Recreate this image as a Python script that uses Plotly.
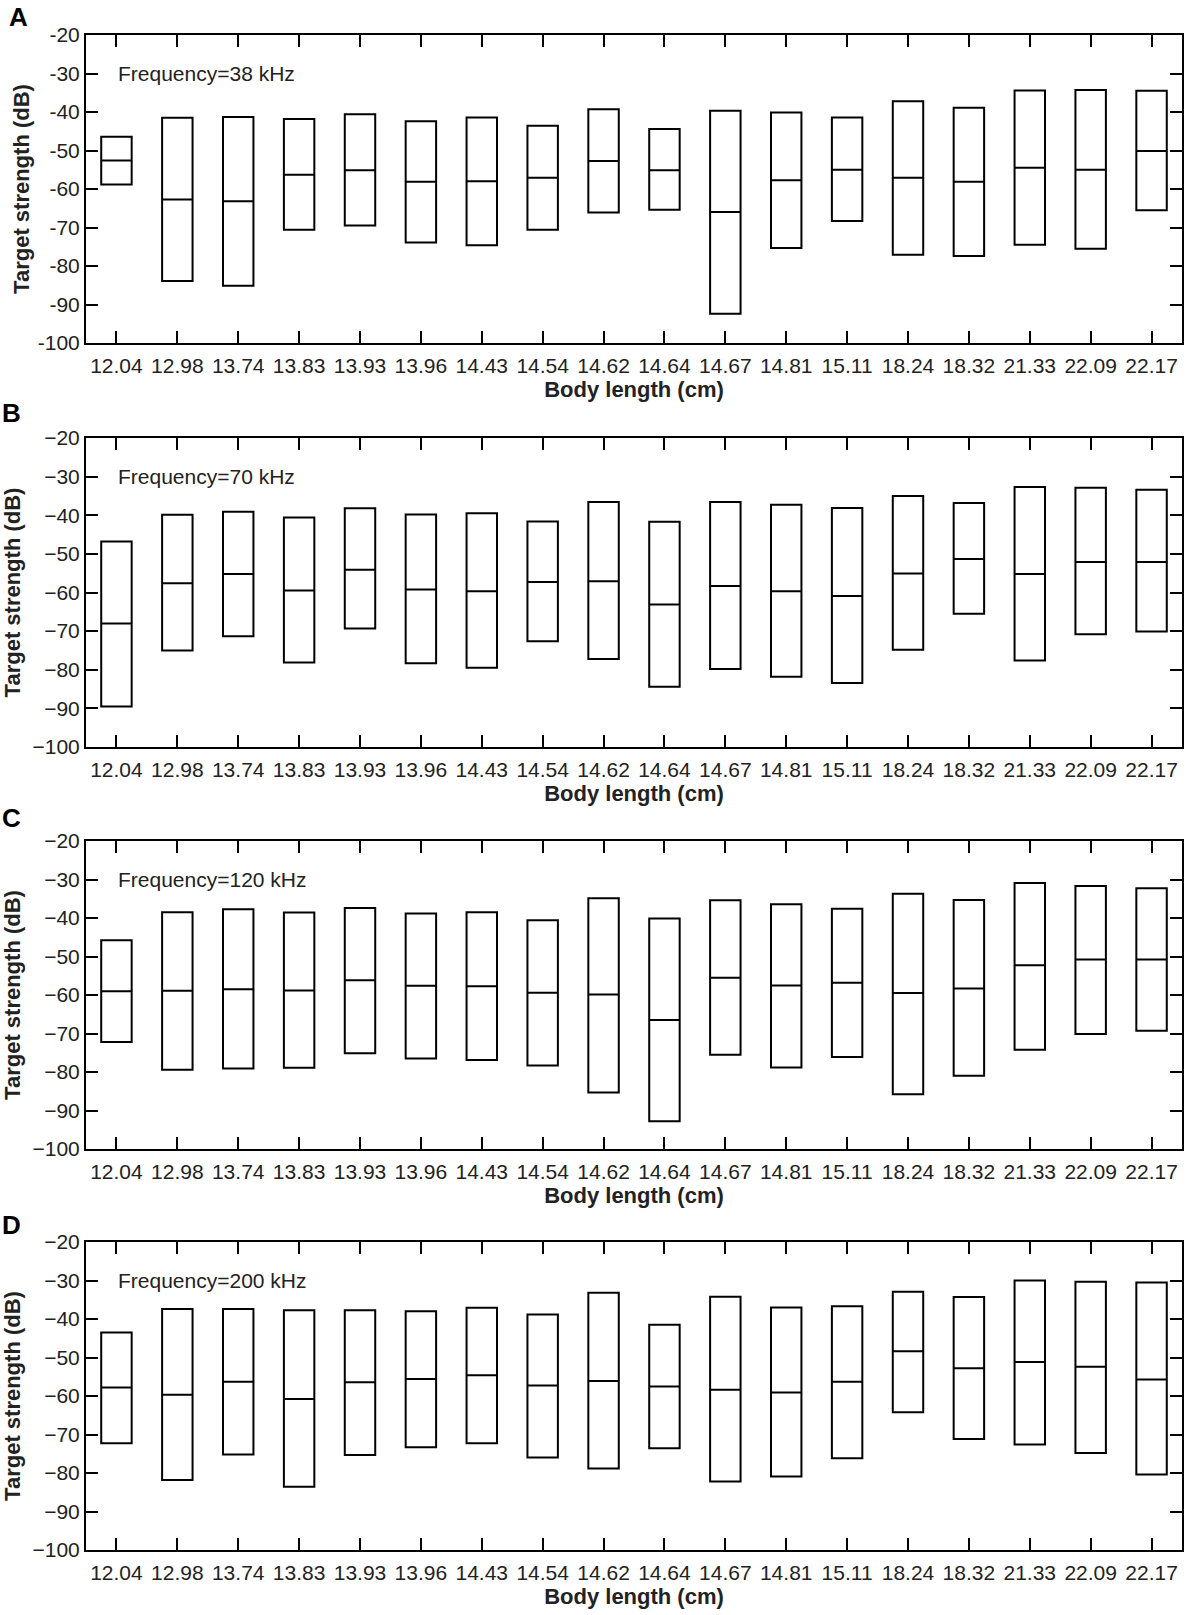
import plotly.graph_objects as go

# body length categories (cm)
body_length = ["12.04", "12.98", "13.74", "13.83", "13.93", "13.96", "14.43", "14.54", "14.62",
               "14.64", "14.67", "14.81", "15.11", "18.24", "18.32", "21.33", "22.09", "22.17"]

# target strength (dB): max / median / min for each frequency
ts_max_38 = [-46.4, -41.5, -41.3, -41.8, -40.6, -42.4, -41.4, -43.6, -39.3,
             -44.4, -39.7, -40.1, -41.4, -37.2, -38.9, -34.4, -34.3, -34.5]
ts_med_38 = [-52.6, -62.7, -63.2, -56.3, -55.1, -58.1, -58.0, -57.1, -52.7,
             -55.1, -66.0, -57.7, -55.0, -57.1, -58.1, -54.5, -55.0, -50.1]
ts_min_38 = [-58.8, -83.9, -85.1, -70.6, -69.5, -73.9, -74.6, -70.6, -66.1,
             -65.4, -92.4, -75.3, -68.3, -77.1, -77.4, -74.5, -75.5, -65.5]

ts_max_70 = [-46.8, -39.9, -39.1, -40.6, -38.2, -39.8, -39.5, -41.6, -36.6,
             -41.7, -36.6, -37.3, -38.1, -35.0, -36.8, -32.7, -32.9, -33.4]
ts_med_70 = [-68.0, -57.6, -55.2, -59.5, -54.1, -59.2, -59.7, -57.3, -57.1,
             -63.1, -58.3, -59.7, -60.9, -55.1, -51.3, -55.2, -52.1, -52.1]
ts_min_70 = [-89.5, -75.0, -71.3, -78.1, -69.3, -78.3, -79.5, -72.6, -77.2,
             -84.4, -79.8, -81.8, -83.4, -74.8, -65.5, -77.6, -70.8, -70.1]

ts_max_120 = [-45.8, -38.5, -37.7, -38.6, -37.4, -38.8, -38.5, -40.6, -34.9,
              -40.1, -35.4, -36.4, -37.6, -33.7, -35.3, -30.9, -31.7, -32.3]
ts_med_120 = [-59.0, -58.9, -58.5, -58.8, -56.2, -57.6, -57.7, -59.4, -59.9,
              -66.5, -55.5, -57.5, -56.8, -59.5, -58.3, -52.3, -50.8, -50.8]
ts_min_120 = [-72.2, -79.4, -79.1, -78.9, -75.1, -76.5, -76.9, -78.3, -85.3,
              -92.8, -75.5, -78.8, -76.1, -85.8, -81.0, -74.2, -70.1, -69.3]

ts_max_200 = [-43.5, -37.4, -37.4, -37.7, -37.7, -38.0, -37.1, -38.8, -33.2,
              -41.5, -34.2, -37.0, -36.7, -32.9, -34.3, -30.0, -30.3, -30.5]
ts_med_200 = [-57.8, -59.7, -56.3, -60.8, -56.4, -55.6, -54.6, -57.3, -56.1,
              -57.5, -58.4, -59.1, -56.3, -48.4, -52.8, -51.2, -52.4, -55.7]
ts_min_200 = [-72.3, -81.8, -75.2, -83.6, -75.3, -73.3, -72.3, -76.0, -78.8,
              -73.6, -82.2, -80.9, -76.2, -64.2, -71.2, -72.6, -74.8, -80.4]

panel_letters = ["A", "B", "C", "D"]
freq_labels = ["Frequency=38 kHz", "Frequency=70 kHz", "Frequency=120 kHz", "Frequency=200 kHz"]
y_ticks = [-100, -90, -80, -70, -60, -50, -40, -30, -20]
y_ticks_hyphen = ["-100", "-90", "-80", "-70", "-60", "-50", "-40", "-30", "-20"]

panels = [
    (ts_min_38, ts_med_38, ts_max_38),
    (ts_min_70, ts_med_70, ts_max_70),
    (ts_min_120, ts_med_120, ts_max_120),
    (ts_min_200, ts_med_200, ts_max_200),
]

# layout in pixels
W, H = 1187, 1615
ML, MR, MT, MB = 86, 3, 35, 65
panel_px = [(35, 343), (438, 747), (841, 1149), (1242, 1550)]
letter_px = [(18, 17), (11, 413), (11, 818), (11, 1225)]
ytitle_standoff = [2, 6, 6, 6]
FONT = "Liberation Sans, Arial, sans-serif"


def py(y):
    return (H - MB - y) / (H - MT - MB)


def px(x):
    return (x - ML) / (W - ML - MR)


fig = go.Figure()
annotations = []

for i, (lo, med, hi) in enumerate(panels):
    n = "" if i == 0 else str(i + 1)
    fig.add_trace(go.Box(
        x=body_length, q1=lo, median=med, q3=hi, lowerfence=lo, upperfence=hi,
        width=0.5, whiskerwidth=0, boxpoints=False,
        line=dict(color="black", width=2), fillcolor="rgba(255,255,255,0)",
        showlegend=False, hoverinfo="skip",
        xaxis="x" + n, yaxis="y" + n,
    ))

    top, bot = panel_px[i]
    common = dict(showline=True, linecolor="black", linewidth=2, mirror="ticks",
                  ticks="inside", ticklen=12, tickwidth=2, tickcolor="black",
                  showgrid=False, zeroline=False,
                  tickfont=dict(family=FONT, size=21, color="#222"))
    fig.layout["xaxis" + n] = dict(
        common, type="category", range=[-0.5, 17.5], anchor="y" + n,
        domain=[0, 1], ticklabelstandoff=3,
        title=dict(text="<b>Body length (cm)</b>", standoff=5,
                   font=dict(family=FONT, size=22, color="#222")),
    )
    fig.layout["yaxis" + n] = dict(
        common, range=[-100, -20], anchor="x" + n, domain=[py(bot), py(top)],
        tickvals=y_ticks, ticktext=y_ticks_hyphen if i == 0 else None,
        ticklabelstandoff=0,
        title=dict(text="<b>Target strength (dB)</b>", standoff=ytitle_standoff[i],
                   font=dict(family=FONT, size=22, color="#222")),
    )

    annotations.append(dict(
        text=freq_labels[i], xref="x" + n, yref="y" + n, x=0.0, y=-30,
        xanchor="left", yanchor="middle", showarrow=False,
        font=dict(family=FONT, size=21, color="#222"),
    ))
    lx, ly = letter_px[i]
    annotations.append(dict(
        text="<b>" + panel_letters[i] + "</b>", xref="paper", yref="paper",
        x=px(lx), y=py(ly), xanchor="center", yanchor="middle", showarrow=False,
        font=dict(family=FONT, size=26, color="black"),
    ))

fig.update_layout(
    width=W, height=H,
    margin=dict(l=ML, r=MR, t=MT, b=MB),
    paper_bgcolor="white", plot_bgcolor="white",
    annotations=annotations,
)

fig.write_html("out.html", config={"displayModeBar": False},
               post_script="document.body.style.margin='0';")
